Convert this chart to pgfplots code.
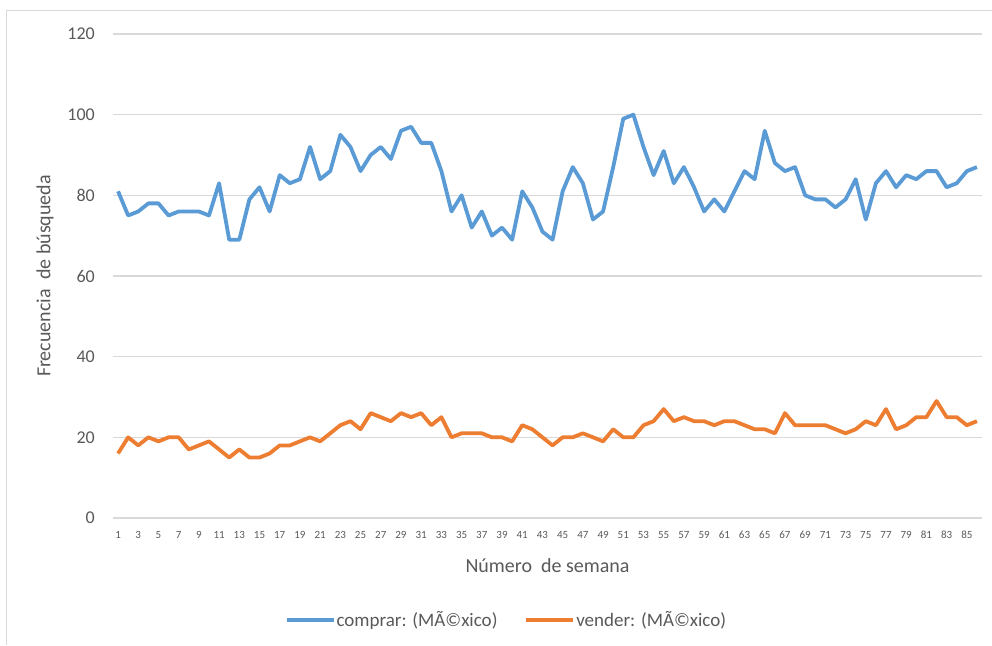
\documentclass[border=0pt]{standalone}
\usepackage{pgfplots}
\pgfplotsset{compat=1.18}
\usepackage{fontspec}
\setmainfont{Carlito}
\definecolor{cblue}{HTML}{5B9BD5}
\definecolor{corange}{HTML}{ED7D31}
\definecolor{gridgray}{HTML}{D9D9D9}
\definecolor{txtgray}{HTML}{595959}
\begin{document}
\begin{tikzpicture}[x=1pt,y=1pt]
\useasboundingbox (0,0) rectangle (992,645);
\draw[color=gridgray, line width=1.2pt] (6.5,0) -- (6.5,634.5) -- (992,634.5);
\begin{axis}[
  at={(113pt,127pt)}, anchor=south west,
  scale only axis, width=869pt, height=484pt,
  xmin=0.5, xmax=86.5, ymin=0, ymax=120,
  ytick={0,20,...,120}, xtick={1,3,...,85},
  axis line style={draw=none},
  major tick length=0pt,
  ymajorgrids, grid style={color=gridgray, line width=1.2pt},
  /pgf/number format/assume math mode=true,
  y tick label style={font=\fontsize{18}{18}\selectfont, text=txtgray, anchor=east, inner sep=0pt, xshift=-18pt},
  x tick label style={font=\fontsize{11}{11}\selectfont, text=txtgray, anchor=north, inner sep=0pt, yshift=-13pt},
  xlabel={Número\ \ de semana},
  ylabel={Frecuencia\ \ de búsqueda},
  xlabel style={at={(axis description cs:0.5,-0.0992)}, anchor=center, font=\fontsize{20}{20}\selectfont, text=txtgray},
  ylabel style={at={(axis description cs:-0.0782,0.5)}, anchor=center, font=\fontsize{20}{20}\selectfont, text=txtgray},
  legend style={at={(axis description cs:0.4522,-0.2107)}, anchor=center, draw=none, fill=none,
    legend columns=2, font=\fontsize{19}{19}\selectfont, text=txtgray,
    /tikz/every even column/.append style={column sep=26pt},
    nodes={inner sep=1pt}},
  legend image code/.code={\draw[#1] (0pt,0pt) -- (47pt,0pt);},
  every axis plot/.append style={line width=3.8pt, line join=round, no markers},
]
\addplot[cblue] coordinates {
(1,81)(2,75)(3,76)(4,78)(5,78)(6,75)(7,76)(8,76)(9,76)(10,75)
(11,83)(12,69)(13,69)(14,79)(15,82)(16,76)(17,85)(18,83)(19,84)(20,92)
(21,84)(22,86)(23,95)(24,92)(25,86)(26,90)(27,92)(28,89)(29,96)(30,97)
(31,93)(32,93)(33,86)(34,76)(35,80)(36,72)(37,76)(38,70)(39,72)(40,69)
(41,81)(42,77)(43,71)(44,69)(45,81)(46,87)(47,83)(48,74)(49,76)(50,87)
(51,99)(52,100)(53,92)(54,85)(55,91)(56,83)(57,87)(58,82)(59,76)(60,79)
(61,76)(62,81)(63,86)(64,84)(65,96)(66,88)(67,86)(68,87)(69,80)(70,79)
(71,79)(72,77)(73,79)(74,84)(75,74)(76,83)(77,86)(78,82)(79,85)(80,84)
(81,86)(82,86)(83,82)(84,83)(85,86)(86,87)
};
\addlegendentry{comprar: (MÃ©xico)}
\addplot[corange] coordinates {
(1,16)(2,20)(3,18)(4,20)(5,19)(6,20)(7,20)(8,17)(9,18)(10,19)
(11,17)(12,15)(13,17)(14,15)(15,15)(16,16)(17,18)(18,18)(19,19)(20,20)
(21,19)(22,21)(23,23)(24,24)(25,22)(26,26)(27,25)(28,24)(29,26)(30,25)
(31,26)(32,23)(33,25)(34,20)(35,21)(36,21)(37,21)(38,20)(39,20)(40,19)
(41,23)(42,22)(43,20)(44,18)(45,20)(46,20)(47,21)(48,20)(49,19)(50,22)
(51,20)(52,20)(53,23)(54,24)(55,27)(56,24)(57,25)(58,24)(59,24)(60,23)
(61,24)(62,24)(63,23)(64,22)(65,22)(66,21)(67,26)(68,23)(69,23)(70,23)
(71,23)(72,22)(73,21)(74,22)(75,24)(76,23)(77,27)(78,22)(79,23)(80,25)
(81,25)(82,29)(83,25)(84,25)(85,23)(86,24)
};
\addlegendentry{vender: (MÃ©xico)}
\end{axis}
\end{tikzpicture}
\end{document}
